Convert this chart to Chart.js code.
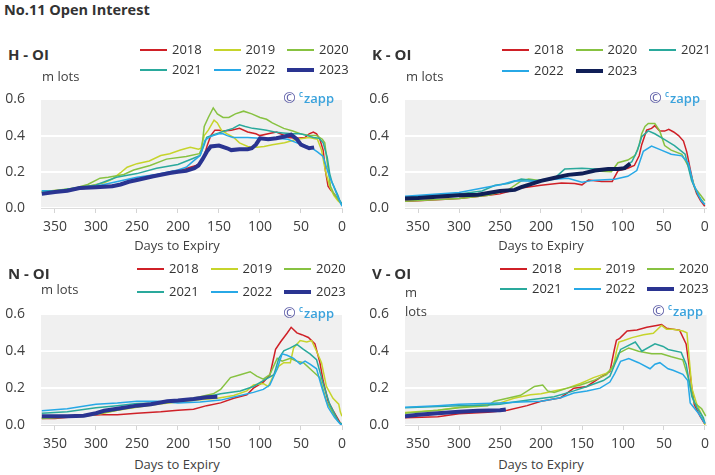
<!DOCTYPE html>
<html><head><meta charset="utf-8">
<script src="https://cdn.jsdelivr.net/npm/chart.js@4.4.0/dist/chart.umd.min.js"></script>
<style>
body{margin:0;background:#fff;font-family:"Open Sans",sans-serif;color:#404040}
#wrap{position:relative;width:715px;height:475px;overflow:hidden;background:#fff}
canvas{position:absolute}
.t{position:absolute;white-space:nowrap;line-height:1.2;transform:translateY(-50%)}
.main{font-weight:700;font-size:14.5px;color:#333}
.ptitle{font-weight:700;font-size:15px;color:#333}
.unit{font-size:13px;color:#404040}
.axt{font-size:13px;color:#404040;transform:translate(-50%,-50%)}
.lg{font-size:13px;color:#333}
.lgline{position:absolute;width:27px}
.wm{font-size:13px;transform:translate(-100%,-50%)}
.wm .c1{color:#5f5fa8;font-size:15px}
.wm .z{color:#3aa2dc;font-weight:600}
.wm sup{font-size:8px;vertical-align:6px;margin-right:1px}
</style></head><body><div id="wrap">
<div class="t main" style="left:4px;top:10px">No.11 Open Interest</div>
</div>
<script>
// ---------- tick labels ----------
const X_TICKS = [350, 300, 250, 200, 150, 100, 50, 0];
const Y_TICKS = [0, 0.2, 0.4, 0.6];

// ---------- H - OI ----------
const H_2018_days = [366,350,330,310,290,270,260,250,240,220,205,195,185,178,172,168,164,160,155,150,145,135,125,115,105,100,90,80,75,65,55,45,40,35,31,27,23,20,17,14,10,5,0];
const H_2018_oi   = [0.09,0.095,0.1,0.11,0.12,0.13,0.15,0.16,0.165,0.185,0.205,0.21,0.225,0.235,0.25,0.29,0.35,0.40,0.43,0.43,0.425,0.43,0.44,0.42,0.41,0.40,0.41,0.42,0.41,0.39,0.385,0.39,0.41,0.42,0.41,0.38,0.32,0.2,0.12,0.1,0.08,0.05,0.02];
const H_2019_days = [366,340,310,290,280,270,262,250,235,221,210,197,185,180,175,172,168,163,156,152,147,140,132,125,115,104,95,85,70,55,40,30,25,20,15,10,5,0];
const H_2019_oi   = [0.09,0.1,0.12,0.14,0.16,0.195,0.225,0.245,0.26,0.29,0.3,0.32,0.335,0.33,0.325,0.33,0.4,0.43,0.485,0.47,0.43,0.41,0.39,0.36,0.34,0.335,0.34,0.35,0.36,0.38,0.39,0.38,0.32,0.2,0.12,0.07,0.04,0.02];
const H_2020_days = [366,345,325,310,295,285,266,254,234,214,190,174,171,168,163,157,152,145,138,130,120,110,100,92,85,71,60,51,40,31,24,21,18,14,10,5,0];
const H_2020_oi   = [0.09,0.1,0.11,0.13,0.165,0.17,0.185,0.21,0.235,0.27,0.285,0.30,0.33,0.45,0.5,0.553,0.52,0.5,0.5,0.52,0.535,0.52,0.5,0.49,0.47,0.44,0.425,0.41,0.4,0.4,0.38,0.36,0.25,0.12,0.08,0.05,0.015];
const H_2021_days = [366,350,300,275,250,226,200,181,173,168,165,160,150,140,133,125,118,109,100,92,82,72,60,51,42,35,28,23,18,15,12,9,5,3,0];
const H_2021_oi   = [0.095,0.094,0.127,0.17,0.19,0.22,0.24,0.275,0.29,0.35,0.39,0.40,0.415,0.43,0.44,0.46,0.45,0.44,0.435,0.43,0.42,0.415,0.41,0.41,0.4,0.39,0.385,0.36,0.28,0.19,0.14,0.11,0.07,0.045,0.02];
const H_2022_days = [366,350,300,275,250,226,200,190,181,173,167,162,157,150,145,140,133,125,115,100,90,80,66,55,45,38,30,23,19,15,11,5,0];
const H_2022_oi   = [0.095,0.09,0.12,0.145,0.17,0.185,0.21,0.225,0.26,0.29,0.375,0.39,0.40,0.41,0.41,0.40,0.39,0.39,0.39,0.385,0.385,0.385,0.38,0.36,0.345,0.335,0.31,0.285,0.225,0.17,0.13,0.06,0.01];
const H_2023_days = [366,350,335,320,300,280,270,260,250,230,210,200,190,180,175,170,165,160,150,140,135,125,115,110,105,100,90,80,70,62,55,50,45,40,34];
const H_2023_oi   = [0.078,0.088,0.095,0.11,0.115,0.12,0.13,0.145,0.155,0.175,0.193,0.2,0.205,0.22,0.235,0.27,0.31,0.34,0.345,0.33,0.32,0.325,0.325,0.33,0.35,0.385,0.38,0.385,0.395,0.405,0.38,0.35,0.34,0.33,0.335];

// ---------- K - OI ----------
const K_2018_days = [366,350,300,264,250,224,200,175,159,150,142,134,126,113,106,94,86,80,77,71,65,61,55,49,44,38,32,26,22,18,14,10,5,0];
const K_2018_oi   = [0.037,0.04,0.053,0.07,0.078,0.11,0.126,0.138,0.135,0.128,0.155,0.15,0.147,0.147,0.205,0.22,0.235,0.29,0.35,0.43,0.44,0.455,0.425,0.425,0.435,0.42,0.40,0.37,0.31,0.22,0.135,0.08,0.04,0.01];
const K_2020_days = [366,300,264,240,224,215,200,175,159,134,114,106,94,85,80,77,73,69,61,55,49,41,28,20,12,5,0];
const K_2020_oi   = [0.037,0.053,0.07,0.1,0.15,0.16,0.15,0.172,0.186,0.204,0.2,0.25,0.265,0.29,0.35,0.41,0.45,0.467,0.467,0.426,0.345,0.32,0.297,0.23,0.11,0.07,0.04];
const K_2021_days = [366,300,272,256,240,224,207,183,171,150,134,118,102,89,82,77,69,61,49,37,24,16,8,0];
const K_2021_oi   = [0.06,0.078,0.094,0.126,0.135,0.16,0.15,0.167,0.215,0.22,0.215,0.215,0.215,0.256,0.32,0.394,0.426,0.41,0.378,0.345,0.297,0.15,0.07,0.02];
const K_2022_days = [366,300,268,248,232,207,183,167,150,134,110,94,83,75,65,53,41,28,20,14,4,0];
const K_2022_oi   = [0.065,0.086,0.113,0.13,0.15,0.148,0.159,0.164,0.143,0.154,0.159,0.175,0.207,0.313,0.342,0.32,0.297,0.288,0.248,0.135,0.037,0.02];
const K_2023_days = [366,350,300,277,250,232,224,200,183,167,150,134,118,106,98,91];
const K_2023_oi   = [0.053,0.055,0.07,0.073,0.094,0.10,0.115,0.15,0.167,0.183,0.19,0.207,0.215,0.215,0.22,0.245];

// ---------- N - OI ----------
const N_2018_days = [366,350,315,294,274,250,221,200,181,165,148,132,116,108,96,88,84,81,75,67,62,55,49,41,33,27,23,17,11,2,0];
const N_2018_oi   = [0.035,0.035,0.05,0.056,0.056,0.064,0.072,0.08,0.085,0.105,0.12,0.145,0.164,0.2,0.233,0.27,0.35,0.41,0.45,0.498,0.53,0.5,0.49,0.475,0.44,0.34,0.24,0.13,0.08,0.01,0.005];
const N_2019_days = [366,315,294,274,250,225,200,173,152,132,116,108,96,90,83,77,71,63,59,51,43,37,31,25,19,11,4,2,0];
const N_2019_oi   = [0.04,0.048,0.061,0.08,0.096,0.113,0.125,0.137,0.145,0.16,0.185,0.217,0.225,0.209,0.273,0.32,0.338,0.338,0.418,0.458,0.45,0.458,0.40,0.338,0.209,0.145,0.113,0.07,0.048];
const N_2020_days = [366,315,294,274,250,225,200,173,157,148,136,124,112,104,96,88,79,73,63,55,47,35,27,19,11,4,0];
const N_2020_oi   = [0.035,0.048,0.064,0.08,0.105,0.117,0.129,0.153,0.169,0.193,0.257,0.273,0.289,0.265,0.249,0.273,0.362,0.346,0.362,0.346,0.338,0.289,0.257,0.129,0.064,0.016,0.005];
const N_2021_days = [366,335,300,274,250,225,200,173,148,124,108,96,83,77,71,63,55,47,39,31,23,15,4,0];
const N_2021_oi   = [0.064,0.072,0.093,0.105,0.117,0.12,0.129,0.145,0.169,0.185,0.209,0.241,0.273,0.362,0.402,0.418,0.437,0.41,0.386,0.354,0.225,0.113,0.016,0.005];
const N_2022_days = [366,335,300,274,250,225,200,173,148,124,108,96,88,79,73,67,59,51,45,39,31,25,17,9,2,0];
const N_2022_oi   = [0.077,0.088,0.113,0.12,0.129,0.129,0.12,0.125,0.135,0.16,0.177,0.193,0.217,0.305,0.386,0.378,0.362,0.33,0.346,0.33,0.305,0.209,0.096,0.04,0.005,0.0];
const N_2023_days = [366,335,315,300,290,274,250,233,213,200,181,165,152];
const N_2023_oi   = [0.048,0.048,0.05,0.064,0.077,0.088,0.105,0.113,0.129,0.133,0.141,0.15,0.153];

// ---------- V - OI ----------
const V_2018_days = [366,326,300,265,241,217,200,176,160,144,128,116,111,108,104,95,83,71,59,53,47,39,31,23,19,16,13,6,0];
const V_2018_oi   = [0.04,0.045,0.061,0.069,0.08,0.105,0.129,0.148,0.2,0.209,0.257,0.29,0.40,0.46,0.47,0.51,0.515,0.53,0.54,0.545,0.525,0.52,0.515,0.44,0.31,0.2,0.11,0.048,0.003];
const V_2019_days = [366,326,300,265,250,233,213,200,184,168,152,144,136,120,112,108,105,99,89,75,63,53,47,39,27,22,19,16,10,4,0];
const V_2019_oi   = [0.068,0.08,0.096,0.113,0.12,0.145,0.164,0.169,0.185,0.2,0.225,0.241,0.257,0.281,0.31,0.40,0.45,0.458,0.474,0.49,0.498,0.54,0.52,0.52,0.51,0.5,0.35,0.2,0.113,0.056,0.0];
const V_2020_days = [366,326,300,265,257,241,225,208,198,192,184,168,152,136,120,112,105,93,81,65,53,41,27,21,13,4,-1];
const V_2020_oi   = [0.064,0.08,0.093,0.105,0.129,0.145,0.161,0.209,0.217,0.185,0.177,0.2,0.217,0.241,0.273,0.322,0.39,0.418,0.40,0.386,0.386,0.37,0.354,0.265,0.12,0.088,0.048];
const V_2021_days = [366,326,300,265,250,233,213,184,160,144,124,116,110,107,103,85,77,61,51,45,29,23,16,10,2,0];
const V_2021_oi   = [0.093,0.1,0.105,0.109,0.113,0.125,0.137,0.153,0.185,0.209,0.241,0.265,0.33,0.36,0.41,0.45,0.40,0.44,0.426,0.41,0.394,0.33,0.155,0.096,0.04,0.008];
const V_2022_days = [366,326,300,250,225,200,176,160,144,128,116,110,103,93,81,67,61,55,45,39,27,21,18,8,0];
const V_2022_oi   = [0.096,0.105,0.113,0.12,0.125,0.129,0.148,0.174,0.185,0.2,0.233,0.28,0.345,0.36,0.338,0.305,0.33,0.338,0.305,0.297,0.275,0.241,0.12,0.064,0.008];
const V_2023_days = [366,350,326,300,277,250,243];
const V_2023_oi   = [0.048,0.056,0.064,0.072,0.077,0.08,0.084];

// ---------- styling ----------
const COLORS = {'2018':'#cf2027','2019':'#c6d42b','2020':'#87c241','2021':'#2aa99c','2022':'#27a8e6','2023':'#28338f'};

const PANELS = [
  {title:'H - OI', series:[['2018',H_2018_days,H_2018_oi],['2019',H_2019_days,H_2019_oi],['2020',H_2020_days,H_2020_oi],['2021',H_2021_days,H_2021_oi],['2022',H_2022_days,H_2022_oi],['2023',H_2023_days,H_2023_oi]],
   navy:'#2a3491', cv:[0,75,357,163], padR:15, xmin:0, xmax:367, tx:8, ty:54, lgx:140, lgy:[50,70], unit:[42,77,'m lots'], axt:[177,246], wm:[334,97]},
  {title:'K - OI', series:[['2018',K_2018_days,K_2018_oi],['2020',K_2020_days,K_2020_oi],['2021',K_2021_days,K_2021_oi],['2022',K_2022_days,K_2022_oi],['2023',K_2023_days,K_2023_oi]],
   navy:'#101f57', cv:[364,75,351,163], padR:9, xmin:-1.5, xmax:366, tx:372, ty:54, lgx:502, lgy:[50,71], unit:[406,77,'m lots'], axt:[541,246], wm:[700,97]},
  {title:'N - OI', series:[['2018',N_2018_days,N_2018_oi],['2019',N_2019_days,N_2019_oi],['2020',N_2020_days,N_2020_oi],['2021',N_2021_days,N_2021_oi],['2022',N_2022_days,N_2022_oi],['2023',N_2023_days,N_2023_oi]],
   navy:'#2a3491', cv:[0,290,357,165], padR:15, xmin:0, xmax:367, tx:8, ty:273, lgx:137, lgy:[269,292], unit:[41,290,'m lots'], axt:[177,465], wm:[334,312]},
  {title:'V - OI', series:[['2018',V_2018_days,V_2018_oi],['2019',V_2019_days,V_2019_oi],['2020',V_2020_days,V_2020_oi],['2021',V_2021_days,V_2021_oi],['2022',V_2022_days,V_2022_oi],['2023',V_2023_days,V_2023_oi]],
   navy:'#2a3491', cv:[364,290,351,165], padR:6, xmin:-2, xmax:366, tx:372, ty:273, lgx:500, lgy:[269,289], unit:[405,293,'m',312,'lots'], axt:[541,465], wm:[703,310]}
];

const bgPlugin = {id:'plotbg', beforeDraw(c){const a=c.chartArea,x=c.ctx;x.save();x.fillStyle='#f0f0f0';x.fillRect(a.left,a.top,a.right-a.left,a.bottom-a.top);x.restore();}};
const wrap = document.getElementById('wrap');
function addText(cls, left, top, text){const d=document.createElement('div');d.className='t '+cls;d.style.left=left+'px';d.style.top=top+'px';d.textContent=text;wrap.appendChild(d);return d;}

PANELS.forEach(p => {
  const cv = document.createElement('canvas');
  cv.width = p.cv[2]; cv.height = p.cv[3];
  cv.style.left = p.cv[0]+'px'; cv.style.top = p.cv[1]+'px';
  cv.style.width = p.cv[2]+'px'; cv.style.height = p.cv[3]+'px';
  wrap.appendChild(cv);
  const colorOf = y => y==='2023' ? p.navy : COLORS[y];
  const datasets = p.series.map(([yr, days, oi]) => ({
    label: yr,
    data: days.map((d,i)=>({x:d, y:oi[i]})),
    borderColor: colorOf(yr),
    borderWidth: yr==='2023' ? 4 : 1.5,
    pointRadius: 0, tension: 0, fill: false,
    order: 2023 - (+yr)
  }));
  new Chart(cv, {
    type:'line',
    data:{datasets},
    options:{
      responsive:false, animation:false, devicePixelRatio:1,
      layout:{padding:{top:10,right:p.padR,left:0,bottom:0}},
      plugins:{legend:{display:false},tooltip:{enabled:false},title:{display:false}},
      scales:{
        x:{type:'linear', reverse:true, min:p.xmin, max:p.xmax,
           afterBuildTicks(s){s.ticks = X_TICKS.map(v=>({value:v}));},
           afterFit(s){s.height = 30;},
           grid:{drawOnChartArea:false, drawTicks:true, tickLength:5, color:'#d4d4d4'},
           border:{display:true, color:'#dcdcdc'},
           ticks:{font:{family:'Open Sans',size:14}, color:'#404040', padding:6, maxRotation:0, autoSkip:false}},
        y:{min:0, max:0.6,
           afterBuildTicks(s){s.ticks = Y_TICKS.map(v=>({value:v}));},
           afterFit(s){s.width = 41;},
           grid:{color:'#ffffff', lineWidth:2, drawTicks:false},
           border:{display:false},
           ticks:{font:{family:'Open Sans',size:14}, color:'#404040', padding:16, callback:v=>Number(v).toFixed(1)}}
      }
    },
    plugins:[bgPlugin]
  });
  addText('ptitle', p.tx, p.ty, p.title);
  addText('unit', p.unit[0], p.unit[1], p.unit[2]);
  if (p.unit.length > 3) addText('unit', p.unit[0], p.unit[3], p.unit[4]);
  addText('axt', p.axt[0], p.axt[1], 'Days to Expiry');
  datasets.forEach((ds, i) => {
    const col = i % 3, row = Math.floor(i / 3);
    const lx = p.lgx + col*73.5, ly = p.lgy[row];
    const ln = document.createElement('div');
    ln.className = 'lgline';
    const th = ds.label==='2023' ? 4 : 2;
    ln.style.left = lx+'px'; ln.style.top = (ly - th/2)+'px'; ln.style.height = th+'px';
    ln.style.background = ds.borderColor;
    wrap.appendChild(ln);
    addText('lg', lx+32, ly, ds.label);
  });
  const w = addText('wm', p.wm[0], p.wm[1], '');
  w.innerHTML = '<span class="c1">©</span> <span class="z"><sup>c</sup>zapp</span>';
});
</script>
</body></html>
